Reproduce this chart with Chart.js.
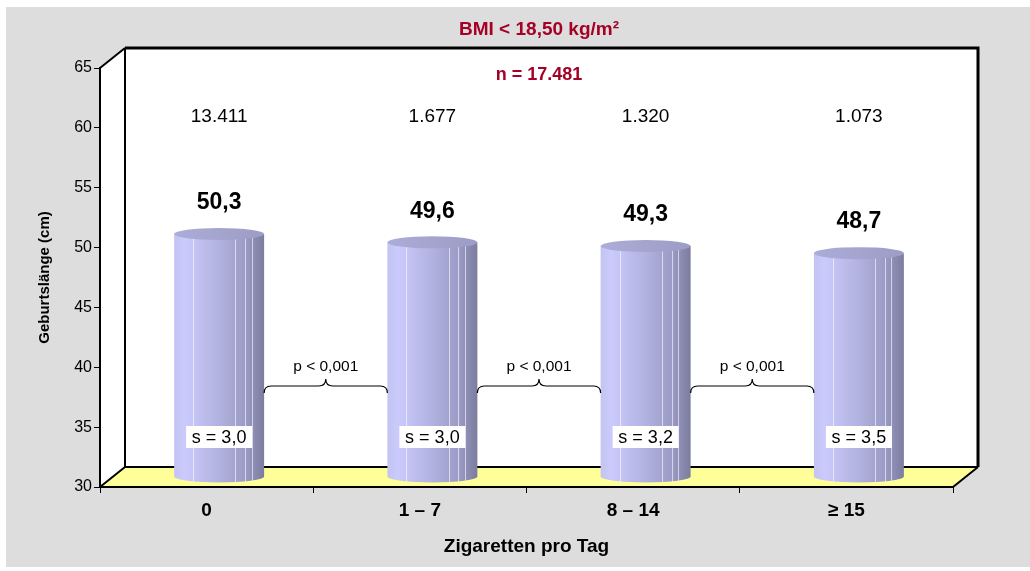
<!DOCTYPE html>
<html lang="de">
<head>
<meta charset="utf-8">
<title>Geburtslänge nach Zigaretten pro Tag</title>
<script src="https://cdn.jsdelivr.net/npm/chart.js@4.4.1/dist/chart.umd.min.js"></script>
<style>
  html, body { margin: 0; padding: 0; background: #fff; }
  canvas { display: block; }
</style>
</head>
<body>
<canvas id="myChart" width="1030" height="571"></canvas>
<script>
const categories = ['0', '1 – 7', '8 – 14', '≥ 15'];
const lengths = [50.3, 49.6, 49.3, 48.7];
const counts = [13411, 1677, 1320, 1073];
const sds = [3.0, 3.0, 3.2, 3.5];
const pLabels = ['p < 0,001', 'p < 0,001', 'p < 0,001'];
const total = 17481;
const yTicks = [30, 35, 40, 45, 50, 55, 60, 65];

const FONT = 'Arial, "Liberation Sans", sans-serif';
const RED = '#a50026';
// depth of the 3d box
const DX = 25, DY = 20;

function thousands(n) {
  return String(n).replace(/\B(?=(\d{3})+(?!\d))/g, '.');
}
function comma(v) {
  return v.toFixed(1).replace('.', ',');
}

function line(ctx, pts, w) {
  ctx.beginPath();
  ctx.moveTo(pts[0][0], pts[0][1]);
  for (let i = 1; i < pts.length; i++) ctx.lineTo(pts[i][0], pts[i][1]);
  ctx.lineWidth = w;
  ctx.strokeStyle = '#000';
  ctx.stroke();
}
function fillPoly(ctx, pts, color) {
  ctx.beginPath();
  ctx.moveTo(pts[0][0], pts[0][1]);
  for (let i = 1; i < pts.length; i++) ctx.lineTo(pts[i][0], pts[i][1]);
  ctx.closePath();
  ctx.fillStyle = color;
  ctx.fill();
}

// background, side wall, back wall and floor
const box3d = {
  id: 'box3d',
  beforeDraw(chart) {
    const ctx = chart.ctx, a = chart.chartArea;
    ctx.save();
    ctx.fillStyle = '#fff';
    ctx.fillRect(0, 0, chart.width, chart.height);
    ctx.fillStyle = '#dddddd';
    ctx.fillRect(6, 7, chart.width - 6, 560);

    fillPoly(ctx, [[a.left, a.top], [a.left + DX, a.top - DY], [a.left + DX, a.bottom - DY], [a.left, a.bottom]], '#fff');
    ctx.fillStyle = '#fff';
    ctx.fillRect(a.left + DX, a.top - DY, a.right - a.left, a.bottom - a.top);
    fillPoly(ctx, [[a.left, a.bottom], [a.left + DX, a.bottom - DY], [a.right + DX, a.bottom - DY], [a.right, a.bottom]], '#ffff99');

    line(ctx, [[a.left + DX, a.bottom - DY], [a.left + DX, a.top - DY]], 2);
    line(ctx, [[a.left + DX, a.bottom - DY], [a.right + DX, a.bottom - DY]], 2);
    line(ctx, [[a.left + DX, a.top - DY], [a.right + DX, a.top - DY], [a.right + DX, a.bottom - DY]], 3);
    line(ctx, [[a.left, a.top], [a.left + DX, a.top - DY]], 2);
    line(ctx, [[a.left, a.bottom], [a.left + DX, a.bottom - DY]], 2);
    line(ctx, [[a.right, a.bottom], [a.right + DX, a.bottom - DY]], 2);

    ctx.textAlign = 'center';
    ctx.textBaseline = 'middle';
    ctx.fillStyle = RED;
    const mid = (a.left + a.right + DX) / 2;
    ctx.font = 'bold 19px ' + FONT;
    ctx.fillText('BMI < 18,50 kg/m²', mid, 30);
    ctx.font = 'bold 18px ' + FONT;
    ctx.fillText('n = ' + thousands(total), mid, a.top + 7);
    ctx.restore();
  }
};

// cylinders, value labels, counts, sd boxes and p braces
const cylinders = {
  id: 'cylinders',
  afterDatasetsDraw(chart) {
    const ctx = chart.ctx, a = chart.chartArea;
    const meta = chart.getDatasetMeta(0);
    const ry = 6;
    const centers = [];
    ctx.save();
    meta.data.forEach((bar, i) => {
      const rx = bar.width / 2;
      const cx = bar.x + DX / 2;
      const top = bar.y - DY / 2;
      const base = bar.base - DY / 2;
      const left = cx - rx, right = cx + rx;
      centers.push({ cx, rx, top });

      const g = ctx.createLinearGradient(left, 0, right, 0);
      g.addColorStop(0, '#c4c4f2');
      g.addColorStop(0.12, '#cacafc');
      g.addColorStop(0.5, '#b2b2e0');
      g.addColorStop(0.8, '#9a9ac6');
      g.addColorStop(1, '#7c7c9e');
      ctx.beginPath();
      ctx.moveTo(left, top);
      ctx.lineTo(left, base);
      ctx.ellipse(cx, base, rx, ry, 0, Math.PI, 0, true);
      ctx.lineTo(right, top);
      ctx.closePath();
      ctx.fillStyle = g;
      ctx.fill();

      // facet lines
      ctx.strokeStyle = 'rgba(255,255,255,0.6)';
      ctx.lineWidth = 1;
      [0.21, 0.68, 0.79, 0.86].forEach(f => {
        const x = Math.round(left + f * 2 * rx) + 0.5;
        ctx.beginPath();
        ctx.moveTo(x, top + ry * 0.6);
        ctx.lineTo(x, base + ry * 0.9);
        ctx.stroke();
      });

      const tg = ctx.createLinearGradient(left, 0, right, 0);
      tg.addColorStop(0, '#acacd8');
      tg.addColorStop(1, '#9c9cc6');
      ctx.beginPath();
      ctx.ellipse(cx, top, rx, ry, 0, 0, Math.PI * 2);
      ctx.fillStyle = tg;
      ctx.fill();

      ctx.textAlign = 'center';
      ctx.textBaseline = 'middle';
      ctx.fillStyle = '#000';
      ctx.font = 'bold 23px ' + FONT;
      ctx.fillText(comma(lengths[i]), cx, top - 31);
      ctx.font = '19px ' + FONT;
      ctx.fillText(thousands(counts[i]), cx, a.top + 49);

      const sy = a.bottom - 50;
      ctx.fillStyle = '#fff';
      ctx.fillRect(cx - 33, sy - 11, 66, 22);
      ctx.fillStyle = '#000';
      ctx.font = '18px ' + FONT;
      ctx.fillText('s = ' + comma(sds[i]), cx, sy + 1);
    });

    pLabels.forEach((txt, i) => {
      const x1 = centers[i].cx + centers[i].rx;
      const x2 = centers[i + 1].cx - centers[i + 1].rx;
      const m = (x1 + x2) / 2, r = 7;
      const yEnd = a.bottom - 94, yFlat = a.bottom - 101, yPeak = a.bottom - 108;
      ctx.beginPath();
      ctx.moveTo(x1, yEnd);
      ctx.quadraticCurveTo(x1, yFlat, x1 + r, yFlat);
      ctx.lineTo(m - r, yFlat);
      ctx.quadraticCurveTo(m, yFlat, m, yPeak);
      ctx.quadraticCurveTo(m, yFlat, m + r, yFlat);
      ctx.lineTo(x2 - r, yFlat);
      ctx.quadraticCurveTo(x2, yFlat, x2, yEnd);
      ctx.strokeStyle = '#000';
      ctx.lineWidth = 1.2;
      ctx.stroke();
      ctx.fillStyle = '#000';
      ctx.font = '15.5px ' + FONT;
      ctx.textAlign = 'center';
      ctx.textBaseline = 'middle';
      ctx.fillText(txt, m, a.bottom - 120);
    });
    ctx.restore();
  }
};

const ctx = document.getElementById('myChart');
new Chart(ctx, {
  type: 'bar',
  data: {
    labels: categories,
    datasets: [{
      label: 'Geburtslänge (cm)',
      data: lengths,
      base: yTicks[0],
      backgroundColor: 'rgba(0,0,0,0)',
      borderWidth: 0,
      categoryPercentage: 1,
      barPercentage: 0.422
    }]
  },
  options: {
    responsive: false,
    animation: false,
    layout: { padding: { top: 68, right: 77, left: 0, bottom: 0 } },
    plugins: {
      legend: { display: false },
      tooltip: { enabled: false }
    },
    scales: {
      x: {
        afterFit(scale) { scale.height = 84; },
        grid: { drawOnChartArea: false, color: '#000', tickLength: 6, offset: true },
        border: { color: '#000', width: 2 },
        ticks: { color: '#000', font: { family: FONT, size: 19, weight: 'bold' }, padding: 6 },
        title: {
          display: true,
          text: 'Zigaretten pro Tag',
          color: '#000',
          font: { family: FONT, size: 19, weight: 'bold' },
          padding: { top: 0, bottom: 12.5 }
        }
      },
      y: {
        min: yTicks[0],
        max: yTicks[yTicks.length - 1],
        afterFit(scale) { scale.width = 100; },
        afterBuildTicks(scale) { scale.ticks = yTicks.map(v => ({ value: v })); },
        grid: { drawOnChartArea: false, color: '#000', tickLength: 6 },
        border: { color: '#000', width: 2 },
        ticks: { color: '#000', font: { family: FONT, size: 16 }, padding: 2 },
        title: {
          display: true,
          text: 'Geburtslänge (cm)',
          color: '#000',
          font: { family: FONT, size: 15, weight: 'bold' },
          padding: { top: 36, bottom: 0 }
        }
      }
    }
  },
  plugins: [box3d, cylinders]
});
</script>
</body>
</html>
